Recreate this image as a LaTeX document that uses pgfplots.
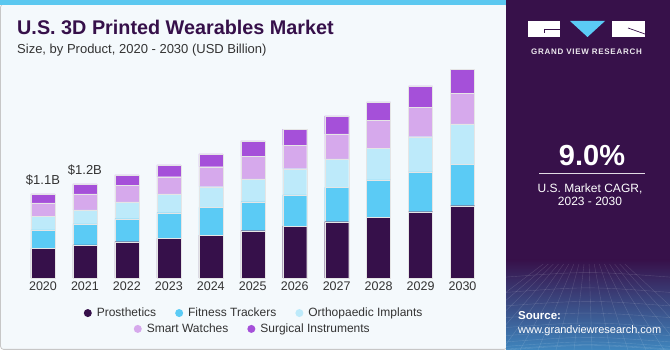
\documentclass[border=0pt]{standalone}
\usepackage{pgfplots}
\pgfplotsset{compat=1.18}
\usepackage{pgfplotstable}
\usepackage{fontspec}
\setmainfont{Liberation Sans}
\definecolor{cpros}{HTML}{36104A}
\definecolor{cfit}{HTML}{5BCBF5}
\definecolor{corth}{HTML}{BDEAFA}
\definecolor{csmart}{HTML}{D6A9EC}
\definecolor{csurg}{HTML}{A550D9}
\definecolor{panel}{HTML}{37114A}
\definecolor{lightbg}{HTML}{F4F9FC}
\definecolor{topbar}{HTML}{5BC8F0}
\definecolor{txtgray}{HTML}{333333}
\definecolor{titlec}{HTML}{36104A}
\definecolor{panelblue}{HTML}{3F86BE}
\pgfplotsset{circ legend/.style={legend image code/.code={\fill[##1,draw=none] (0pt,0pt) circle (4pt);}}}
\pgfplotstableread{
x pros fit orth smart surg
0 0.386 0.238 0.173 0.178 0.117
1 0.429 0.273 0.182 0.208 0.130
2 0.471 0.299 0.217 0.217 0.134
3 0.516 0.332 0.243 0.225 0.152
4 0.558 0.360 0.268 0.260 0.165
5 0.614 0.377 0.295 0.290 0.204
6 0.675 0.403 0.342 0.304 0.208
7 0.731 0.447 0.368 0.325 0.234
8 0.792 0.481 0.412 0.364 0.238
9 0.861 0.516 0.458 0.382 0.277
10 0.939 0.538 0.523 0.399 0.312
}\datatable
\begin{document}
\begin{tikzpicture}[x=1pt,y=1pt]
\useasboundingbox (0,0) rectangle (670,350);
\fill[white] (0,0) rectangle (670,350);
% left panel
\fill[lightbg,draw=black!22,line width=0.8pt,rounded corners=3pt] (0.6,0.6) rectangle (507,346);
\fill[topbar] (0,345) rectangle (507,350);
% right panel
\fill[panel] (506,0) rectangle (670,350);
\shade[top color=panel,bottom color=panelblue] (506,0) rectangle (670,90);
\begin{scope}
\clip (506,0) rectangle (670,85);
\foreach \i in {0,...,16}{
  \draw[white,opacity=0.15,line width=0.4pt] (430+\i*18,0) -- (588,120);
}
\foreach \j in {0,...,9}{
  \draw[white,opacity=0.15,line width=0.4pt] (506,\j*\j*0.9) .. controls (588,\j*\j*0.9+6) .. (670,\j*\j*0.9);
}
\end{scope}
% logo
\fill[white] (528,313) rectangle (560,329);
\draw[panel,line width=0.7pt] (544,321) -- (560,321);
\draw[panel,line width=0.7pt] (544,321) -- (544,317);
\fill[cfit] (570,329) -- (605,329) -- (587.5,313) -- cycle;
\fill[white] (612,313) rectangle (645,329);
\draw[panel,line width=0.7pt] (628,322) -- (645,316);
\node[anchor=base,text=white!90!panel,font=\fontsize{8}{9}\selectfont\bfseries] at (586.5,295) {\addfontfeatures{LetterSpace=9}GRAND VIEW RESEARCH};
% CAGR
\node[anchor=base,text=white,font=\fontsize{29}{32}\selectfont\bfseries] at (592,184.3) {9.0\%};
\draw[white!85!panel,line width=0.8pt] (539,176.7) -- (645,176.7);
\node[anchor=base,text=white,font=\fontsize{12}{14}\selectfont] at (590,157.3) {U.S. Market CAGR,};
\node[anchor=base,text=white,font=\fontsize{12}{14}\selectfont] at (590,144.5) {2023 - 2030};
\node[anchor=base west,inner sep=0,text=white,font=\fontsize{11.5}{13}\selectfont\bfseries] at (518,30.7) {Source:};
\node[anchor=base west,inner sep=0,text=white,font=\fontsize{11}{13}\selectfont] at (518,16.7) {www.grandviewresearch.com};
% titles
\node[anchor=base west,inner sep=0,text=titlec,font=\fontsize{19.8}{22}\selectfont\bfseries] at (17,315) {U.S. 3D Printed Wearables Market};
\node[anchor=base west,inner sep=0,text=txtgray,font=\fontsize{13}{15}\selectfont] at (17,296.7) {Size, by Product, 2020 - 2030 (USD Billion)};
\begin{axis}[
  at={(22pt,72pt)}, anchor=south west,
  scale only axis, width=461.5pt, height=223.3pt,
  xmin=-0.5, xmax=10.5, ymin=0, ymax=2.9,
  ybar stacked, bar width=24pt,
  axis line style={draw=none}, major tick length=0pt,
  ytick=\empty,
  xtick=data, xticklabels={2020,2021,2022,2023,2024,2025,2026,2027,2028,2029,2030},
  xticklabel style={font=\fontsize{12.5}{14}\selectfont, text=txtgray},
  legend style={at={(0.503,-0.157)}, anchor=center, draw=none, fill=none,
    font=\fontsize{12}{14}\selectfont, text=txtgray, legend columns=3,
    /tikz/every odd column/.append style={column sep=3pt},
    /tikz/every even column/.append style={column sep=17pt}},
  clip=false,
]
\addplot[fill=cpros, draw=white!80!gray, line width=0.3pt, circ legend] table[x=x,y=pros] {\datatable};
\addlegendentry{Prosthetics}
\addplot[fill=cfit, draw=white!80!gray, line width=0.3pt, circ legend] table[x=x,y=fit] {\datatable};
\addlegendentry{Fitness Trackers}
\addplot[fill=corth, draw=white!80!gray, line width=0.3pt, circ legend] table[x=x,y=orth] {\datatable};
\addlegendentry{Orthopaedic Implants}
\addplot[fill=csmart, draw=white!80!gray, line width=0.3pt] table[x=x,y=smart] {\datatable};
\addplot[fill=csurg, draw=white!80!gray, line width=0.3pt] table[x=x,y=surg] {\datatable};
\node[anchor=base, font=\fontsize{13}{15}\selectfont, text=txtgray] at (axis cs:0,1.09) [yshift=10pt] {\$1.1B};
\node[anchor=base, font=\fontsize{13}{15}\selectfont, text=txtgray] at (axis cs:1,1.22) [yshift=10pt] {\$1.2B};
\end{axis}
\begin{axis}[
  at={(22pt,72pt)}, anchor=south west,
  scale only axis, width=461.5pt, height=223.3pt,
  xmin=-0.5, xmax=10.5, ymin=0, ymax=2.9,
  hide axis,
  legend style={at={(0.5,-0.228)}, anchor=center, draw=none, fill=none,
    font=\fontsize{12}{14}\selectfont, text=txtgray, legend columns=2,
    /tikz/every odd column/.append style={column sep=3pt},
    /tikz/every even column/.append style={column sep=17pt}},
]
\addlegendimage{circ legend, fill=csmart}
\addlegendentry{Smart Watches}
\addlegendimage{circ legend, fill=csurg}
\addlegendentry{Surgical Instruments}
\end{axis}
\end{tikzpicture}
\end{document}
